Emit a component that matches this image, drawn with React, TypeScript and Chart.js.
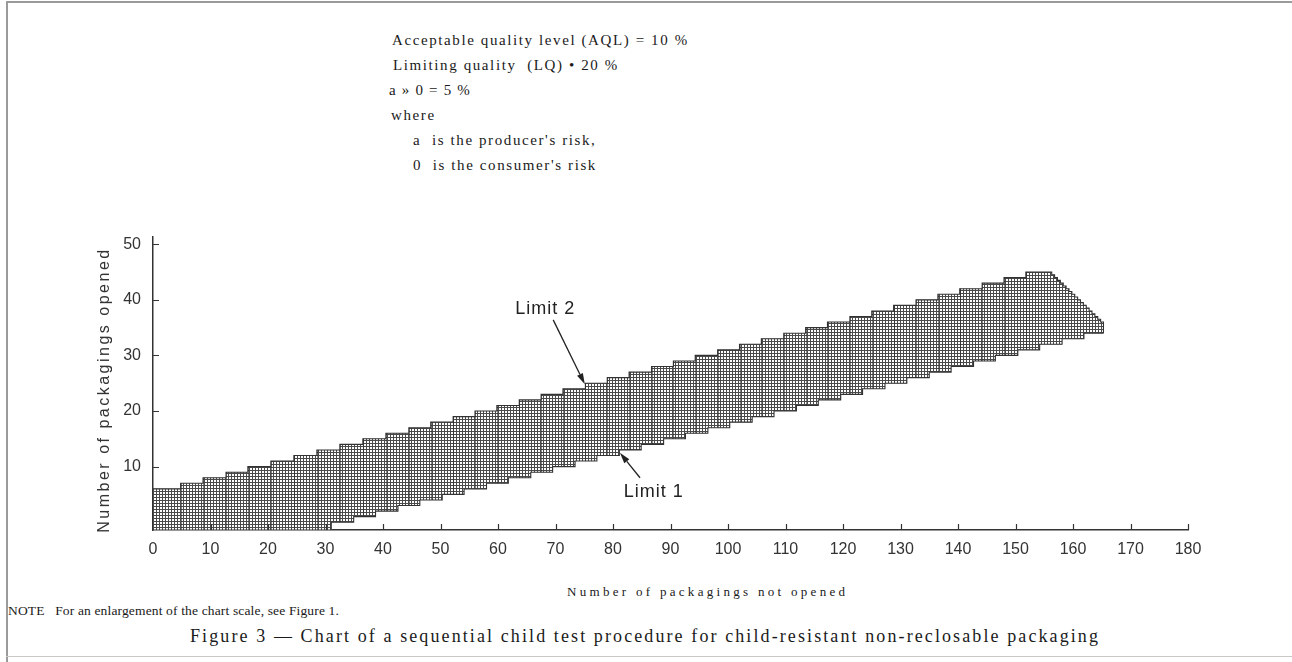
import React, { useEffect, useRef } from 'react';
import { Chart, registerables } from 'chart.js';

Chart.register(...registerables);

// ---- axis ticks ----
const xTicks = [0, 10, 20, 30, 40, 50, 60, 70, 80, 90, 100, 110, 120, 130, 140, 150, 160, 170, 180];
const yTicks = [10, 20, 30, 40, 50];

// ---- Limit 2 (upper edge of the band): x where each level starts, and the level ----
const upperStepX = [
  0, 4.8, 8.7, 12.7, 16.5, 20.5, 24.5, 28.5, 32.5, 36.5,
  40.5, 44.5, 48.3, 52.2, 56, 59.8, 63.7, 67.5, 71.3, 75.2,
  79, 82.8, 86.7, 90.5, 94.3, 98.2, 102, 105.8, 109.7, 113.5,
  117.3, 121.2, 125, 128.8, 132.7, 136.5, 140.3, 144.2, 148, 151.8,
  156.3, 156.8, 157.3, 157.8, 158.3, 158.8, 159.3, 159.8, 160.3, 160.8,
  161.3, 161.8, 162.3, 162.8, 163.3, 163.8, 164.3, 164.8,
];
const upperStepY = [
  6, 7, 8, 9, 10, 11, 12, 13, 14, 15,
  16, 17, 18, 19, 20, 21, 22, 23, 24, 25,
  26, 27, 28, 29, 30, 31, 32, 33, 34, 35,
  36, 37, 38, 39, 40, 41, 42, 43, 44, 45,
  44.5, 44, 43.5, 43, 42.5, 42, 41.5, 41, 40.5, 40,
  39.5, 39, 38.5, 38, 37.5, 37, 36.5, 36,
];

// ---- Limit 1 (lower edge of the band) ----
const lowerStepX = [
  0, 31, 34.9, 38.7, 42.6, 46.4, 50.3, 54.1, 58, 61.8,
  65.7, 69.5, 73.4, 77.2, 81.1, 84.9, 88.8, 92.6, 96.5, 100.3,
  104.2, 108, 111.9, 115.7, 119.6, 123.4, 127.3, 131.1, 135, 138.8,
  142.7, 146.5, 150.4, 154.2, 158.1, 161.9,
];
const lowerStepY = [
  -1.4, 0, 1, 2, 3, 4, 5, 6, 7, 8,
  9, 10, 11, 12, 13, 14, 15, 16, 17, 18,
  19, 20, 21, 22, 23, 24, 25, 26, 27, 28,
  29, 30, 31, 32, 33, 34,
];
const bandEndX = 165.3;

const originMark = [{ x: 0.35, y: -0.85 }];

const limitLabels = ['Limit 2', 'Limit 1'];
const labelPos = [[68.2, 38.4], [87.1, 5.4]];
const arrowTail = [[69.6, 36.4], [84.7, 8.0]];
const arrowTip = [[75.1, 24.8], [81.2, 12.5]];

const Y_MIN = -1.4;
const Y_MAX = 51.3;

function stepPoints(xs: number[], ys: number[], endX: number) {
  const pts: { x: number; y: number }[] = [];
  for (let i = 0; i < xs.length; i++) {
    const x1 = i + 1 < xs.length ? xs[i + 1] : endX;
    pts.push({ x: xs[i], y: ys[i] });
    pts.push({ x: x1, y: ys[i] });
  }
  return pts;
}

function levelAt(xs: number[], ys: number[], x: number) {
  let v = ys[0];
  for (let i = 0; i < xs.length; i++) if (xs[i] <= x) v = ys[i];
  return v;
}

function makePattern(): CanvasPattern | string {
  const c = document.createElement('canvas');
  c.width = 3;
  c.height = 3;
  const g = c.getContext('2d');
  if (!g) return '#999';
  g.fillStyle = '#ffffff';
  g.fillRect(0, 0, 3, 3);
  g.fillStyle = '#4a4a4a';
  g.fillRect(0, 0, 3, 1);
  g.fillRect(0, 0, 1, 3);
  const p = g.createPattern(c, 'repeat');
  return p || '#999';
}

const decorPlugin = {
  id: 'decor',
  afterDatasetsDraw(chart: any) {
    // subtle column lines at each step of Limit 2
    const ctx = chart.ctx;
    const xs = chart.scales.x;
    const ys = chart.scales.y;
    ctx.save();
    ctx.strokeStyle = 'rgba(40,40,40,0.55)';
    ctx.lineWidth = 1;
    ctx.beginPath();
    for (let i = 1; i < upperStepX.length; i++) {
      const xv = upperStepX[i];
      if (xv > 152) break;
      const px = Math.round(xs.getPixelForValue(xv)) + 0.5;
      const top = ys.getPixelForValue(upperStepY[i]);
      const bot = ys.getPixelForValue(levelAt(lowerStepX, lowerStepY, xv));
      ctx.moveTo(px, top);
      ctx.lineTo(px, bot);
    }
    ctx.stroke();
    ctx.restore();
  },
  afterDraw(chart: any) {
    const ctx = chart.ctx;
    const xs = chart.scales.x;
    const ys = chart.scales.y;
    const axisY = ys.getPixelForValue(Y_MIN);
    const axisX = xs.getPixelForValue(0);
    ctx.save();
    ctx.strokeStyle = '#333';
    ctx.lineWidth = 1.2;
    // inward tick marks
    ctx.beginPath();
    xTicks.forEach((v) => {
      if (v === 0) return;
      const px = Math.round(xs.getPixelForValue(v)) + 0.5;
      ctx.moveTo(px, axisY);
      ctx.lineTo(px, axisY - 6);
    });
    yTicks.forEach((v) => {
      const py = Math.round(ys.getPixelForValue(v)) + 0.5;
      ctx.moveTo(axisX, py);
      ctx.lineTo(axisX + 6, py);
    });
    ctx.stroke();
    // arrows and labels
    ctx.fillStyle = '#222';
    ctx.strokeStyle = '#222';
    ctx.lineWidth = 1.3;
    limitLabels.forEach((t, i) => {
      const tx = xs.getPixelForValue(arrowTail[i][0]);
      const ty = ys.getPixelForValue(arrowTail[i][1]);
      const hx = xs.getPixelForValue(arrowTip[i][0]);
      const hy = ys.getPixelForValue(arrowTip[i][1]);
      const ang = Math.atan2(hy - ty, hx - tx);
      const len = 11;
      const bx = hx - len * Math.cos(ang);
      const by = hy - len * Math.sin(ang);
      ctx.beginPath();
      ctx.moveTo(tx, ty);
      ctx.lineTo(bx, by);
      ctx.stroke();
      ctx.beginPath();
      ctx.moveTo(hx, hy);
      ctx.lineTo(bx + 3.2 * Math.sin(ang), by - 3.2 * Math.cos(ang));
      ctx.lineTo(bx - 3.2 * Math.sin(ang), by + 3.2 * Math.cos(ang));
      ctx.closePath();
      ctx.fill();
      ctx.font = '18px "Liberation Sans", Arial, sans-serif';
      try { (ctx as any).letterSpacing = '1px'; } catch (e) {}
      ctx.textAlign = 'center';
      ctx.textBaseline = 'middle';
      ctx.fillText(t, xs.getPixelForValue(labelPos[i][0]), ys.getPixelForValue(labelPos[i][1]));
      try { (ctx as any).letterSpacing = '0px'; } catch (e) {}
    });
    ctx.restore();
  },
};

function BandChart() {
  const ref = useRef<HTMLCanvasElement | null>(null);
  useEffect(() => {
    if (!ref.current) return;
    const pattern = makePattern();
    const chart = new Chart(ref.current, {
      type: 'line',
      data: {
        datasets: [
          {
            label: 'Limit 1',
            data: stepPoints(lowerStepX, lowerStepY, bandEndX),
            borderColor: '#333',
            borderWidth: 1.1,
            pointRadius: 0,
            fill: false,
            tension: 0,
          },
          {
            label: 'Limit 2',
            data: [...stepPoints(upperStepX, upperStepY, bandEndX), { x: bandEndX, y: lowerStepY[lowerStepY.length - 1] }],
            borderColor: '#333',
            borderWidth: 1.1,
            pointRadius: 0,
            backgroundColor: pattern as any,
            fill: 0,
            tension: 0,
          },
          {
            label: 'origin',
            data: originMark,
            showLine: false,
            pointStyle: 'rect',
            pointRadius: 2.6,
            pointBackgroundColor: '#000',
            pointBorderColor: '#000',
            pointBorderWidth: 0,
          },
        ],
      },
      options: {
        responsive: false,
        animation: false,
        devicePixelRatio: 1,
        layout: { padding: { top: 37, right: 104, left: 0, bottom: 0 } },
        plugins: { legend: { display: false }, tooltip: { enabled: false }, title: { display: false } },
        events: [],
        scales: {
          x: {
            type: 'linear',
            min: 0,
            max: 180,
            afterBuildTicks: (s: any) => { s.ticks = xTicks.map((v) => ({ value: v })); },
            afterFit: (s: any) => { s.height = 50; },
            grid: { display: true, drawOnChartArea: false, drawTicks: false },
            border: { display: true, color: '#333', width: 1.5 },
            ticks: {
              padding: 10,
              color: '#333',
              maxRotation: 0,
              autoSkip: false,
              font: { family: '"Liberation Sans", Arial, sans-serif', size: 16 },
            },
          },
          y: {
            type: 'linear',
            min: Y_MIN,
            max: Y_MAX,
            afterBuildTicks: (s: any) => { s.ticks = yTicks.map((v) => ({ value: v })); },
            afterFit: (s: any) => { s.width = 153; },
            grid: { display: true, drawOnChartArea: false, drawTicks: false },
            border: { display: true, color: '#333', width: 1.5 },
            ticks: {
              padding: 12,
              color: '#333',
              autoSkip: false,
              font: { family: '"Liberation Sans", Arial, sans-serif', size: 16 },
            },
          },
        },
      },
      plugins: [decorPlugin],
    } as any);
    return () => chart.destroy();
  }, []);
  return (
    <canvas
      ref={ref}
      width={1292}
      height={380}
      style={{ position: 'absolute', left: 0, top: 200, width: 1292, height: 380 }}
    />
  );
}

const serif = '"Liberation Serif", "Times New Roman", serif';
const sans = '"Liberation Sans", Arial, sans-serif';

function Line(props: { left: number; cy: number; size: number; spacing: number; family: string; text: string; color?: string }) {
  return (
    <div
      style={{
        position: 'absolute',
        left: props.left,
        top: props.cy - 10,
        height: 20,
        lineHeight: '20px',
        fontFamily: props.family,
        fontSize: props.size,
        letterSpacing: props.spacing,
        whiteSpace: 'pre',
        color: props.color || '#1a1a1a',
      }}
    >
      {props.text}
    </div>
  );
}

export default function App() {
  return (
    <div style={{ position: 'absolute', left: 0, top: 0, width: 1292, height: 662, background: '#fff', overflow: 'hidden' }}>
      <div style={{ position: 'absolute', left: 6, top: 1, width: 1286, height: 2, background: '#9a9a9a' }} />
      <div style={{ position: 'absolute', left: 6, top: 1, width: 2, height: 661, background: '#9a9a9a' }} />
      <div style={{ position: 'absolute', left: 6, top: 656, width: 1286, height: 1, background: '#c8c8c8' }} />

      <Line left={392} cy={40} size={15} spacing={1.6} family={serif} text="Acceptable quality level (AQL) = 10 %" />
      <Line left={393} cy={65} size={15} spacing={1.6} family={serif} text="Limiting quality  (LQ) • 20 %" />
      <Line left={389} cy={90} size={15} spacing={1.2} family={serif} text="a » 0 = 5 %" />
      <Line left={391} cy={115} size={15} spacing={1.6} family={serif} text="where" />
      <Line left={413} cy={140} size={15} spacing={1.6} family={serif} text="a  is the producer's risk," />
      <Line left={413} cy={165} size={15} spacing={1.6} family={serif} text="0  is the consumer's risk" />

      <BandChart />

      <div
        style={{
          position: 'absolute',
          left: 104 - 200,
          top: 390 - 10,
          width: 400,
          height: 20,
          lineHeight: '20px',
          textAlign: 'center',
          fontFamily: sans,
          fontSize: 16,
          letterSpacing: 2.5,
          color: '#333',
          transform: 'rotate(-90deg)',
          transformOrigin: 'center center',
          whiteSpace: 'pre',
        }}
      >
        Number of packagings opened
      </div>

      <Line left={567} cy={592} size={13} spacing={3.3} family={serif} text="Number of packagings not opened" />
      <Line left={8} cy={611} size={13.5} spacing={0.15} family={serif} text="NOTE   For an enlargement of the chart scale, see Figure 1." />
      <Line left={190} cy={636} size={18} spacing={2.1} family={serif} text="Figure 3 — Chart of a sequential child test procedure for child-resistant non-reclosable packaging" />
    </div>
  );
}
